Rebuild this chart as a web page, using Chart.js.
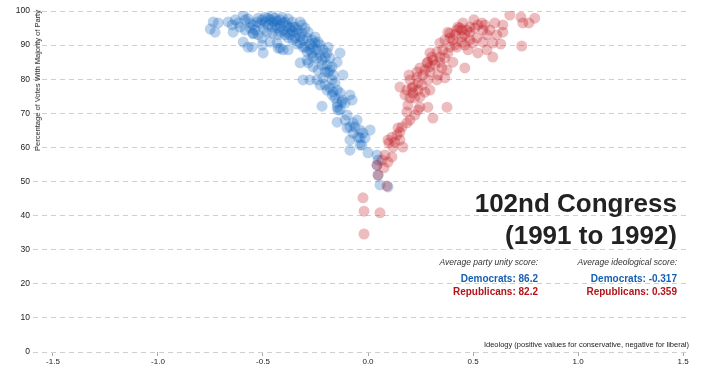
<!DOCTYPE html>
<html>
<head>
<meta charset="utf-8">
<script src="https://cdn.jsdelivr.net/npm/chart.js@4.4.1/dist/chart.umd.min.js"></script>
<style>
  html, body { margin: 0; padding: 0; background: #fff; }
  #wrap { position: relative; width: 702px; height: 371px; overflow: hidden; font-family: "Liberation Sans", Arial, Helvetica, sans-serif; }
  #c { position: absolute; left: 0; top: 0; }
  .t { position: absolute; white-space: nowrap; }
  .title { right: 25px; font-size: 26px; line-height: 26px; font-weight: bold; color: #222; text-align: right; }
  .lbl { font-size: 8.5px; line-height: 8.5px; font-style: italic; color: #333; }
  .dem { font-size: 10px; line-height: 10px; font-weight: bold; color: #1660b2; }
  .rep { font-size: 10px; line-height: 10px; font-weight: bold; color: #b3141a; }
  .c1 { right: 164px; }
  .c2 { right: 25px; }
  #ytitle { position: absolute; left: 33px; top: 10px; font-size: 7.5px; line-height: 10px; color: #222; writing-mode: vertical-rl; transform: rotate(180deg); white-space: nowrap; }
  #xtitle { position: absolute; right: 13px; top: 340px; font-size: 7.5px; line-height: 10px; color: #222; white-space: nowrap; }
</style>
</head>
<body>
<div id="wrap">
  <canvas id="c" width="702" height="371"></canvas>
  <div id="ytitle">Percentage of Votes With Majority of Party</div>
  <div id="xtitle">Ideology (positive values for conservative, negative for liberal)</div>
  <div class="t title" style="top:190px">102nd Congress</div>
  <div class="t title" style="top:222px">(1991 to 1992)</div>
  <div class="t lbl c1" style="top:258px">Average party unity score:</div>
  <div class="t dem c1" style="top:273.5px">Democrats: 86.2</div>
  <div class="t rep c1" style="top:286.5px">Republicans: 82.2</div>
  <div class="t lbl c2" style="top:258px">Average ideological score:</div>
  <div class="t dem c2" style="top:273.5px">Democrats: -0.317</div>
  <div class="t rep c2" style="top:286.5px">Republicans: 0.359</div>
</div>
<script>
const xTickValues = [-1.5, -1.0, -0.5, 0.0, 0.5, 1.0, 1.5];
const yTickValues = [0, 10, 20, 30, 40, 50, 60, 70, 80, 90, 100];

const demIdeology = [
-0.751,-0.728,-0.737,-0.713,-0.647,-0.642,-0.618,-0.594,-0.609,-0.585,
-0.561,-0.547,-0.547,-0.528,-0.504,-0.490,-0.476,-0.442,-0.418,-0.404,
-0.456,-0.433,-0.480,-0.456,-0.418,-0.385,-0.371,-0.357,-0.338,-0.323,
-0.314,-0.347,-0.380,-0.594,-0.571,-0.552,-0.499,-0.547,-0.466,-0.433,
-0.404,-0.380,-0.418,-0.309,-0.290,-0.252,-0.252,-0.228,-0.214,-0.190,
-0.266,-0.323,-0.290,-0.243,-0.204,-0.219,-0.195,-0.262,-0.238,-0.204,
-0.171,-0.133,-0.147,-0.119,-0.309,-0.276,-0.243,-0.214,-0.228,-0.171,
-0.157,-0.181,-0.166,-0.147,-0.133,-0.171,-0.124,-0.086,-0.076,-0.109,
-0.147,-0.219,-0.100,-0.147,-0.052,-0.062,-0.100,-0.038,-0.024,0.010,
-0.048,-0.086,-0.029,-0.086,0.000,0.043,0.048,0.043,0.048,0.057,
0.095,
-0.147,-0.124,-0.143,-0.071,-0.071,-0.038,-0.014,-0.038,
-0.523,-0.514,-0.499,-0.490,-0.476,-0.466,-0.456,-0.452,-0.442,-0.433,
-0.428,-0.418,-0.409,-0.404,-0.395,-0.395,-0.385,-0.380,-0.371,-0.361,
-0.361,-0.357,-0.347,-0.338,-0.333,-0.323,-0.323,-0.314,-0.309,-0.300,
-0.300,-0.290,-0.285,-0.276,-0.276,-0.266,-0.262,-0.243,-0.238,-0.228,
-0.219,-0.262,-0.285,-0.195,-0.181,-0.190,-0.166,-0.181,-0.204,-0.195,
-0.157,-0.133,-0.109,-0.086,
-0.666,-0.632,-0.571,-0.561,-0.537,-0.585,-0.523,-0.504,-0.504,-0.428
];
const demUnity = [
94.7,93.8,96.8,96.5,95.9,93.8,96.5,98.8,95.3,97.4,
96.5,95.9,93.5,96.8,97.4,96.8,97.9,97.9,97.4,96.5,
95.3,95.0,93.8,93.5,93.8,93.8,95.0,95.3,93.5,92.4,
95.9,92.1,92.1,90.9,89.4,89.4,87.7,93.3,90.9,90.6,
88.6,88.6,89.1,89.4,88.0,92.4,90.6,90.0,88.6,89.4,
87.7,84.8,85.6,86.2,86.5,84.2,84.2,83.6,82.7,82.1,
83.6,87.7,85.0,81.2,79.8,79.8,79.8,80.4,78.3,79.8,
78.9,77.4,76.2,76.8,76.0,75.4,73.9,75.4,73.9,73.0,
71.8,72.1,69.5,67.4,68.0,66.0,65.7,65.1,64.2,65.1,
63.0,62.2,60.7,59.2,58.4,57.8,56.3,54.8,51.9,49.0,
48.4,
73.0,73.3,71.0,67.2,64.2,62.8,62.8,60.7,
97.9,96.2,95.0,98.2,95.9,97.4,98.5,96.8,95.9,97.1,
93.0,95.6,98.2,94.4,96.8,93.0,95.6,97.7,93.0,96.8,
94.1,91.5,95.3,90.3,94.4,96.8,90.6,93.5,91.5,95.0,
89.4,92.1,93.8,90.3,88.6,91.5,89.4,88.6,90.9,87.1,
85.6,86.5,84.8,87.7,86.2,82.1,81.2,82.7,78.3,76.8,
74.5,71.0,68.0,66.0,
96.8,97.4,97.7,95.0,94.4,94.4,93.0,92.1,90.0,89.1
];

const repIdeology = [
-0.024,-0.019,0.057,-0.019,0.048,0.090,0.043,0.081,0.095,0.114,
0.100,0.119,0.166,0.095,0.114,0.138,0.152,0.162,0.185,0.200,
0.185,0.190,0.247,0.238,0.309,0.376,0.285,0.200,0.223,0.214,
0.247,0.271,0.295,0.152,0.185,0.200,0.238,0.233,0.195,0.262,
0.295,0.328,0.333,0.376,0.366,0.285,0.309,0.342,0.366,0.328,
0.357,0.380,0.404,0.390,0.423,0.404,0.447,0.390,0.423,0.447,
0.471,0.485,0.447,0.485,0.518,0.499,0.476,0.523,0.461,0.547,
0.566,0.547,0.580,0.604,0.642,0.642,0.542,0.504,0.675,0.728,
0.766,0.794,0.737,0.732,0.632,0.594,0.594,0.566,0.613,0.452,
0.485,0.428,0.380,0.366,0.342,0.295,0.281,0.295,0.247,0.233,0.214,0.238,
0.304,0.319,0.342,0.352,0.271,0.390,0.414,0.437,0.461,0.509,
0.523,0.556,0.414,0.461,0.209,0.176,0.257,0.285,0.223,0.143,
0.128,0.152,0.067,0.076
];
const repUnity = [
45.2,41.3,40.8,34.6,51.9,48.7,54.8,57.8,55.7,57.2,
61.3,60.1,60.1,62.2,63.0,63.6,64.5,66.0,67.2,68.0,
70.4,72.4,71.8,71.0,68.6,71.8,71.8,74.5,74.5,76.0,
74.8,76.2,76.8,77.7,76.8,79.8,78.9,80.6,81.2,81.2,
82.1,79.8,81.2,82.7,80.4,85.0,85.6,86.5,86.2,88.0,
88.6,87.7,85.0,89.4,89.4,91.5,92.4,93.5,94.4,94.4,
94.4,93.8,90.9,91.5,92.1,90.6,88.6,87.7,83.3,90.9,
93.0,94.4,94.4,96.5,95.9,93.8,96.5,97.4,98.8,98.2,
96.5,97.9,96.5,89.7,90.3,86.5,90.6,88.6,93.0,96.5,
95.3,95.3,93.8,91.5,90.6,87.7,84.8,83.6,83.3,82.1,77.7,76.8,
86.5,84.2,85.0,83.3,82.7,92.1,93.0,95.0,93.0,95.0,
95.9,95.9,90.0,90.0,77.4,75.4,78.3,79.8,69.5,65.7,
61.6,62.2,56.3,54.0
];

const toPoints = (xs, ys) => xs.map((x, i) => ({ x: x, y: ys[i] }));

const FONT = '"Liberation Sans", Arial, Helvetica, sans-serif';

new Chart(document.getElementById('c'), {
  type: 'scatter',
  data: {
    datasets: [
      {
        label: 'Republicans',
        data: toPoints(repIdeology, repUnity),
        backgroundColor: 'rgba(192, 14, 22, 0.28)',
        borderWidth: 0,
        pointRadius: 5.5,
        pointHoverRadius: 5.5
      },
      {
        label: 'Democrats',
        data: toPoints(demIdeology, demUnity),
        backgroundColor: 'rgba(8, 92, 186, 0.28)',
        borderWidth: 0,
        pointRadius: 5.5,
        pointHoverRadius: 5.5
      }
    ]
  },
  options: {
    responsive: false,
    animation: false,
    events: [],
    layout: { padding: { left: 0, right: 16, top: 11, bottom: 0 } },
    plugins: { legend: { display: false }, tooltip: { enabled: false }, title: { display: false } },
    scales: {
      x: {
        type: 'linear',
        min: -1.595,
        max: 1.514,
        afterBuildTicks: (s) => { s.ticks = xTickValues.map(v => ({ value: v })); },
        afterFit: (s) => { s.height = 19; },
        grid: { display: true, drawOnChartArea: false, drawTicks: true, tickLength: 4, tickColor: '#aaa', color: '#aaa' },
        border: { display: false },
        ticks: { font: { family: FONT, size: 8 }, color: '#222', padding: 1, maxRotation: 0, autoSkip: false,
                 callback: (v) => Number(v).toFixed(1) }
      },
      y: {
        type: 'linear',
        min: 0,
        max: 100,
        afterBuildTicks: (s) => { s.ticks = yTickValues.map(v => ({ value: v })); },
        afterFit: (s) => { s.width = 33; },
        grid: { display: true, drawTicks: false, color: '#cfcfcf', lineWidth: 1 },
        border: { display: false, dash: [5, 4] },
        ticks: { font: { family: FONT, size: 8.5 }, color: '#222', padding: 3, autoSkip: false }
      }
    }
  }
});
</script>
</body>
</html>
